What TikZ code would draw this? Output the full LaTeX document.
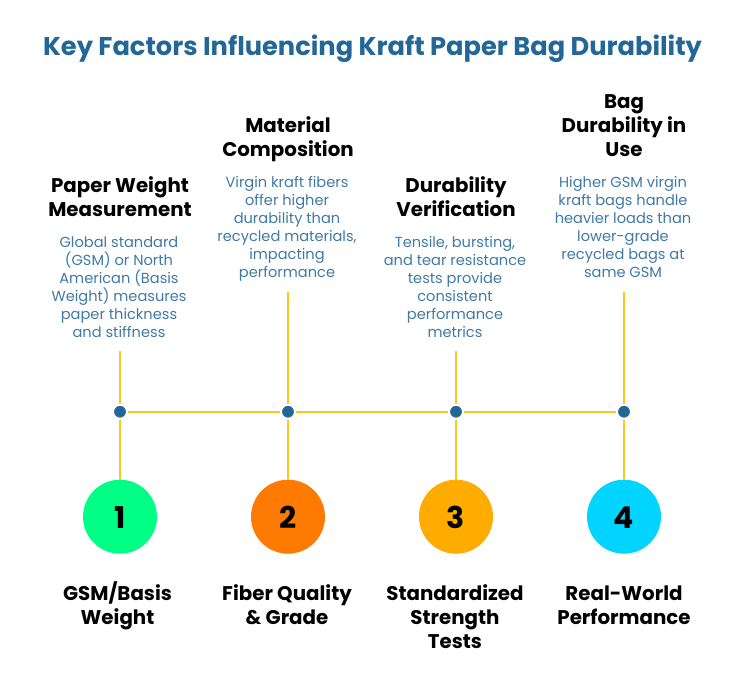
\documentclass[tikz,border=0pt]{standalone}
\usepackage{fontspec}
\setmainfont{Poppins}
\usetikzlibrary{positioning}
\definecolor{titleblue}{HTML}{236796}
\definecolor{bodyblue}{HTML}{3F7AA5}
\definecolor{lineyellow}{HTML}{FFC61E}
\definecolor{dotblue}{HTML}{236796}
\definecolor{numgreen}{HTML}{00FF85}
\definecolor{numorange}{HTML}{FF7A00}
\definecolor{numamber}{HTML}{FFAB00}
\definecolor{numcyan}{HTML}{00D4FF}

\begin{document}
\begin{tikzpicture}[
    x=1pt, y=-1pt,
    font=\fontsize{14.6}{18}\selectfont,
    % Styles
    titlebox/.style={
        font=\fontsize{25.7}{30}\selectfont\bfseries, text=titleblue, inner sep=0pt
    },
    headbox/.style={
        font=\fontsize{19.8}{24}\selectfont\bfseries, align=center, inner sep=0pt, anchor=base
    },
    bodybox/.style={
        text=bodyblue, align=center, inner sep=0pt, anchor=base
    },
    numbox/.style={
        circle, minimum size=74pt, inner sep=0pt, text height=22.6pt, text depth=0pt,
        font=\fontsize{30}{30}\selectfont\bfseries
    },
    dotbox/.style={
        circle, fill=dotblue, draw=white, line width=2pt, minimum size=14pt, inner sep=0pt
    },
    link/.style={lineyellow, line width=2pt}
]
    \useasboundingbox (0,0) rectangle (744,678);

    \node[titlebox] (title) at (372.5,49) {Key Factors Influencing Kraft Paper Bag Durability};

    % --- Row 1: Top labels ---
    \node[headbox] (head1) at (120,216) {Paper Weight\\Measurement};
    \node[bodybox] (body1) at ([xshift=-1pt,yshift=-121pt]head1.base) {Global standard\\(GSM) or North\\American (Basis\\Weight) measures\\paper thickness\\and stiffness};
    \node[headbox] (head2) at (288,156) {Material\\Composition};
    \node[bodybox] (body2) at ([xshift=-1pt,yshift=-121pt]head2.base) {Virgin kraft fibers\\offer higher\\durability than\\recycled materials,\\impacting\\performance};
    \node[headbox] (head3) at (456,216) {Durability\\Verification};
    \node[bodybox] (body3) at ([xshift=-1pt,yshift=-121pt]head3.base) {Tensile, bursting,\\and tear resistance\\tests provide\\consistent\\performance\\metrics};
    \node[headbox] (head4) at (624,156) {Bag\\Durability in\\Use};
    \node[bodybox] (body4) at ([xshift=-1pt,yshift=-121pt]head4.base) {Higher GSM virgin\\kraft bags handle\\heavier loads than\\lower-grade\\recycled bags at\\same GSM};

    % --- Row 2: Line ends and dots ---
    \coordinate (top1) at (120,351);
    \coordinate (top2) at (288,292);
    \coordinate (top3) at (456,351);
    \coordinate (top4) at (624,292);

    \node[numbox, fill=numgreen] (num1) at (120,516.7) {1};
    \node[numbox, fill=numorange] (num2) at (288,516.7) {2};
    \node[numbox, fill=numamber] (num3) at (456,516.7) {3};
    \node[numbox, fill=numcyan] (num4) at (624,516.7) {4};

    \coordinate (mid1) at (120,411.7);
    \coordinate (mid4) at (624,411.7);
    \draw[link] (mid1) -- (mid4);
    \draw[link] (top1) -- (num1);
    \draw[link] (top2) -- (num2);
    \draw[link] (top3) -- (num3);
    \draw[link] (top4) -- (num4);

    \node[dotbox] (dot1) at (mid1) {};
    \node[dotbox] (dot2) at (288,411.7) {};
    \node[dotbox] (dot3) at (456,411.7) {};
    \node[dotbox] (dot4) at (mid4) {};

    % --- Row 4: Bottom labels ---
    \node[headbox] (foot1) at (117.5,624) {GSM/Basis\\Weight};
    \node[headbox] (foot2) at (287,624) {Fiber Quality\\\& Grade};
    \node[headbox] (foot3) at (455,648) {Standardized\\Strength\\Tests};
    \node[headbox] (foot4) at (624,624) {Real-World\\Performance};
\end{tikzpicture}
\end{document}
